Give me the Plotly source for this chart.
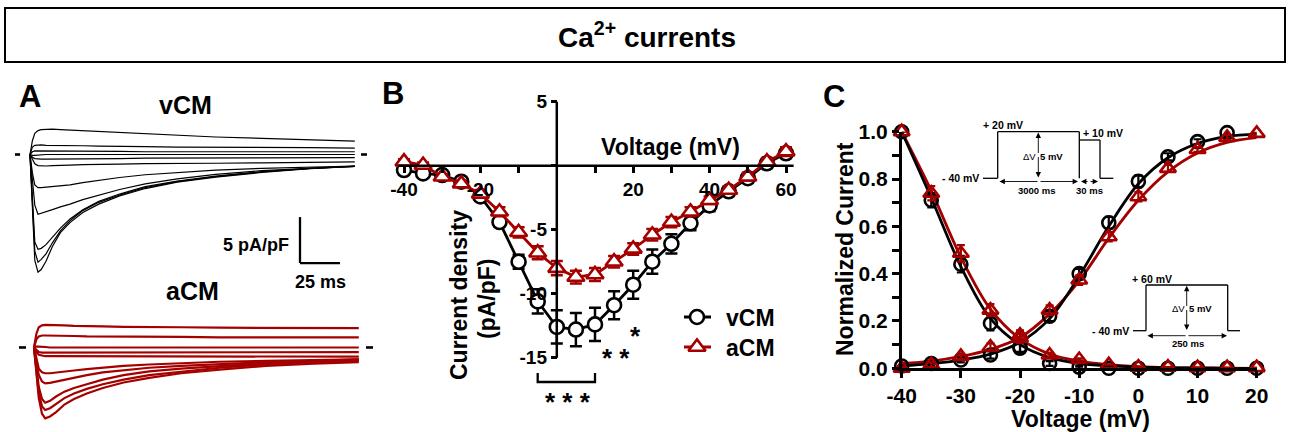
import plotly.graph_objects as go

W, H = 1289, 432
FONT = "Liberation Sans, Arial, Helvetica, sans-serif"
RED = "#A50000"
BLACK = "#000000"

# ---------------- Panel A: example current traces (pA/pF vs ms) ----------------
trace_t_ms = [0, 1.5, 3, 5, 7, 10, 14, 19, 25, 33, 43, 56, 72, 92, 116, 145, 175, 203]

v_out1 = [0, 1.5, 2.3, 2.6, 2.7, 2.75, 2.75, 2.7, 2.65, 2.55, 2.45, 2.35, 2.2, 2.05, 1.9, 1.75, 1.6, 1.45]
v_out2 = [0, 0.8, 1.0, 1.05, 1.05, 1.0, 1.0, 1.0, 0.95, 0.95, 0.9, 0.9, 0.85, 0.8, 0.8, 0.75, 0.75, 0.7]
v_out3 = [0, 0.3, 0.4, 0.4, 0.4, 0.4, 0.4, 0.4, 0.35, 0.35, 0.35, 0.35, 0.3, 0.3, 0.3, 0.3, 0.3, 0.3]
v_flat = [0, -0.1, -0.1, -0.05, 0, 0, 0, 0, 0, 0, 0, 0, 0, 0, 0, 0, 0, 0]
v_in1 = [0, -0.3, -0.45, -0.5, -0.5, -0.5, -0.5, -0.5, -0.5, -0.45, -0.45, -0.45, -0.4, -0.4, -0.4, -0.4, -0.35, -0.35]
v_in2 = [0, -0.6, -1.0, -1.2, -1.25, -1.25, -1.2, -1.2, -1.15, -1.1, -1.1, -1.05, -1.0, -1.0, -0.95, -0.9, -0.85, -0.8]
v_in3 = [0, -2.0, -3.3, -3.6, -3.6, -3.55, -3.5, -3.4, -3.3, -3.05, -2.8, -2.5, -2.2, -1.95, -1.7, -1.5, -1.35, -1.25]
v_in4 = [0, -3.0, -5.5, -6.5, -6.4, -6.2, -6.0, -5.7, -5.4, -4.9, -4.4, -3.8, -3.2, -2.65, -2.15, -1.75, -1.5, -1.3]
v_in5 = [0, -5.0, -9.5, -10.3, -10.2, -9.8, -9.0, -8.0, -7.0, -6.0, -5.1, -4.3, -3.5, -2.9, -2.35, -1.85, -1.5, -1.25]
v_in6 = [0, -5.5, -10.5, -11.7, -11.4, -10.8, -9.6, -8.3, -7.2, -6.1, -5.2, -4.4, -3.6, -2.95, -2.4, -1.9, -1.5, -1.3]
v_in7 = [0, -6.0, -11.5, -12.8, -12.5, -11.6, -10.0, -8.5, -7.4, -6.3, -5.4, -4.5, -3.7, -3.0, -2.45, -1.95, -1.55, -1.3]
vcm_traces = [v_out1, v_out2, v_out3, v_flat, v_in1, v_in2, v_in3, v_in4, v_in5, v_in6, v_in7]

a_out1 = [0, 1.5, 2.2, 2.4, 2.45, 2.45, 2.4, 2.4, 2.35, 2.3, 2.3, 2.25, 2.2, 2.2, 2.15, 2.15, 2.1, 2.1]
a_out2 = [0, 0.9, 1.2, 1.3, 1.3, 1.3, 1.3, 1.25, 1.25, 1.2, 1.2, 1.2, 1.15, 1.15, 1.1, 1.1, 1.1, 1.1]
a_flat = [0, 0.1, 0.1, 0.1, 0.05, 0, 0, 0, 0, 0, 0, 0, 0, 0, 0, 0, 0, 0]
a_in1 = [0, -0.3, -0.5, -0.55, -0.55, -0.55, -0.55, -0.55, -0.55, -0.5, -0.5, -0.5, -0.5, -0.5, -0.5, -0.5, -0.5, -0.5]
a_in2 = [0, -0.5, -0.8, -0.9, -0.95, -0.95, -0.95, -1.0, -1.0, -1.0, -1.0, -1.0, -1.0, -1.0, -1.0, -1.0, -1.0, -1.0]
a_in3 = [0, -1.2, -2.3, -2.7, -2.8, -2.8, -2.7, -2.6, -2.5, -2.35, -2.2, -2.0, -1.85, -1.7, -1.55, -1.45, -1.35, -1.3]
a_in4 = [0, -1.5, -3.0, -3.7, -3.9, -3.85, -3.7, -3.5, -3.3, -3.0, -2.7, -2.45, -2.2, -2.0, -1.8, -1.6, -1.45, -1.35]
a_in5 = [0, -2.0, -4.3, -5.6, -6.0, -5.8, -5.3, -4.8, -4.4, -4.0, -3.5, -3.0, -2.6, -2.3, -2.0, -1.7, -1.45, -1.3]
a_in6 = [0, -2.2, -5.0, -6.4, -6.8, -6.6, -6.1, -5.5, -5.0, -4.5, -4.0, -3.5, -3.0, -2.6, -2.2, -1.85, -1.6, -1.45]
a_in7 = [0, -2.5, -5.5, -7.2, -7.7, -7.5, -7.0, -6.2, -5.6, -5.0, -4.4, -3.8, -3.3, -2.8, -2.4, -2.0, -1.75, -1.6]
acm_traces = [a_out1, a_out2, a_flat, a_in1, a_in2, a_in3, a_in4, a_in5, a_in6, a_in7]

scale_bar_current = 5    # pA/pF
scale_bar_time = 25      # ms

# ---------------- Panel B: I-V relationship ----------------
b_voltage = [-40, -35, -30, -25, -20, -15, -10, -5, 0, 5, 10, 15, 20, 25, 30, 35, 40, 45, 50, 55, 60]
b_vcm = [-0.34, -0.6, -0.73, -1.25, -2.4, -4.4, -7.5, -10.6, -12.6, -12.8, -12.4, -10.9, -9.3, -7.5, -6.1, -4.5, -3.1, -2.0, -0.98, 0.19, 0.97]
b_vcm_err = [0.15, 0.15, 0.15, 0.2, 0.25, 0.35, 0.55, 0.95, 1.3, 1.3, 1.3, 1.1, 1.1, 0.95, 0.75, 0.55, 0.45, 0.35, 0.3, 0.3, 0.35]
b_acm = [0.31, 0.05, -0.86, -1.4, -2.2, -3.6, -5.2, -6.8, -8.0, -8.7, -8.5, -7.5, -6.5, -5.4, -4.4, -3.6, -2.7, -1.9, -0.86, 0.31, 1.1]
b_acm_err = [0.2, 0.2, 0.2, 0.25, 0.3, 0.35, 0.4, 0.5, 0.55, 0.5, 0.5, 0.45, 0.45, 0.45, 0.4, 0.35, 0.3, 0.3, 0.3, 0.3, 0.35]
b_xtick_vals = [-40, -30, -20, -10, 10, 20, 30, 40, 50, 60]
b_xtick_text = ["-40", "", "-20", "", "", "20", "", "40", "", "60"]
b_ytick_vals = [5, 0, -5, -10, -15]
b_ytick_text = ["5", "", "-5", "-10", "-15"]
sig_bracket_mv = [-5, 10]
legend_names = ["vCM", "aCM"]

# ---------------- Panel C: activation / inactivation ----------------
c_voltage = [-40, -35, -30, -25, -20, -15, -10, -5, 0, 5, 10, 15, 20]
act_vcm = [0.01, 0.02, 0.035, 0.056, 0.085, 0.22, 0.40, 0.615, 0.79, 0.894, 0.958, 0.996, None]
act_vcm_err = [0.005, 0.01, 0.01, 0.015, 0.02, 0.02, 0.02, 0.025, 0.025, 0.015, 0.01, 0.01, 0]
act_acm = [0.0, 0.015, 0.05, 0.09, 0.14, 0.246, 0.373, 0.556, 0.725, 0.845, 0.925, 0.976, 0.993]
act_acm_err = [0.005, 0.01, 0.01, 0.015, 0.02, 0.02, 0.02, 0.02, 0.02, 0.015, 0.01, 0.01, 0.005]
inact_vcm = [1.0, 0.71, 0.44, 0.19, 0.09, 0.02, 0.005, 0.0, 0.0, 0.0, 0.0, 0.0, 0.0]
inact_vcm_err = [0, 0.03, 0.035, 0.03, 0.02, 0.01, 0.005, 0, 0, 0, 0, 0, 0]
inact_acm = [1.0, 0.74, 0.486, 0.246, 0.127, 0.056, 0.037, 0.015, 0.005, 0.005, 0.003, 0.003, 0.003]
inact_acm_err = [0, 0.03, 0.035, 0.025, 0.02, 0.01, 0.005, 0, 0, 0, 0, 0, 0]
fit_act_vcm = [0.01, 0.02, 0.035, 0.06, 0.11, 0.21, 0.39, 0.60, 0.78, 0.89, 0.95, 0.98, 0.99]
fit_act_acm = [0.02, 0.03, 0.05, 0.08, 0.13, 0.23, 0.37, 0.55, 0.71, 0.83, 0.91, 0.955, 0.975]
fit_inact_vcm = [1.0, 0.72, 0.43, 0.21, 0.10, 0.045, 0.02, 0.01, 0.005, 0.002, 0.001, 0.0, 0.0]
fit_inact_acm = [1.0, 0.75, 0.47, 0.25, 0.125, 0.06, 0.03, 0.015, 0.007, 0.003, 0.002, 0.001, 0.0]


def fx(x):
    return x / W


def fy(y):
    return 1 - y / H


def bold(s):
    return "<b>" + s + "</b>" if s else ""


fig = go.Figure()

# ---- Panel A traces ----
for tr in vcm_traces:
    fig.add_trace(go.Scatter(x=trace_t_ms, y=tr, mode="lines", xaxis="x", yaxis="y",
                             line=dict(color=BLACK, width=1.2), showlegend=False, hoverinfo="skip"))
for tr in acm_traces:
    fig.add_trace(go.Scatter(x=trace_t_ms, y=tr, mode="lines", xaxis="x2", yaxis="y2",
                             line=dict(color=RED, width=2.2), showlegend=False, hoverinfo="skip"))

# ---- Panel B ----
B_XRANGE = [-43, 63]
B_YRANGE = [-19.5, 5.8]
B_X0PX, B_PX_PER_MV = 556.8, 3.82
B_Y0PX, B_PX_PER_UNIT = 165.7, 12.8


def bx(px_):
    return (px_ - B_X0PX) / B_PX_PER_MV


def by(py_):
    return (B_Y0PX - py_) / B_PX_PER_UNIT


circle_marker = dict(symbol="circle", size=14, color="white", line=dict(color=BLACK, width=2.6))
tri_marker = dict(symbol="triangle-up", size=15, color="white", line=dict(color=RED, width=2.6))

fig.add_trace(go.Scatter(
    x=b_voltage, y=b_vcm, mode="lines+markers", xaxis="x3", yaxis="y3", showlegend=False,
    line=dict(color=BLACK, width=2.8), marker=circle_marker,
    error_y=dict(type="data", array=b_vcm_err, color=BLACK, thickness=2.5, width=6),
    cliponaxis=False))
fig.add_trace(go.Scatter(
    x=b_voltage, y=b_acm, mode="lines+markers", xaxis="x3", yaxis="y3", showlegend=False,
    line=dict(color=RED, width=2.8), marker=tri_marker,
    error_y=dict(type="data", array=b_acm_err, color=RED, thickness=2.5, width=6),
    cliponaxis=False))

# legend keys (drawn inside panel B)
for (ypx, col, mk) in [(317, BLACK, circle_marker), (347, RED, tri_marker)]:
    fig.add_trace(go.Scatter(x=[bx(684), bx(697), bx(711)], y=[by(ypx)] * 3, mode="lines",
                             xaxis="x3", yaxis="y3", line=dict(color=col, width=2.8),
                             showlegend=False, hoverinfo="skip", cliponaxis=False))
    fig.add_trace(go.Scatter(x=[bx(697)], y=[by(ypx)], mode="markers", marker=mk,
                             xaxis="x3", yaxis="y3", showlegend=False, hoverinfo="skip", cliponaxis=False))

# ---- Panel C ----
for fit, col in [(fit_act_acm, RED), (fit_inact_acm, RED), (fit_act_vcm, BLACK), (fit_inact_vcm, BLACK)]:
    fig.add_trace(go.Scatter(x=c_voltage, y=fit, mode="lines", xaxis="x4", yaxis="y4",
                             line=dict(color=col, width=2.8, shape="spline", smoothing=1.0),
                             showlegend=False, hoverinfo="skip", cliponaxis=False))
for vals, err in [(act_vcm, act_vcm_err), (inact_vcm, inact_vcm_err)]:
    fig.add_trace(go.Scatter(x=c_voltage, y=vals, mode="markers", xaxis="x4", yaxis="y4",
                             marker=dict(symbol="circle", size=13, color="rgba(255,255,255,0)",
                                         line=dict(color=BLACK, width=2.6)),
                             error_y=dict(type="data", array=err, color=BLACK, thickness=2.2, width=4),
                             showlegend=False, cliponaxis=False))
for vals, err in [(act_acm, act_acm_err), (inact_acm, inact_acm_err)]:
    fig.add_trace(go.Scatter(x=c_voltage, y=vals, mode="markers", xaxis="x4", yaxis="y4",
                             marker=dict(symbol="triangle-up", size=14, color="rgba(255,255,255,0)",
                                         line=dict(color=RED, width=2.6)),
                             error_y=dict(type="data", array=err, color=RED, thickness=2.2, width=4),
                             showlegend=False, cliponaxis=False))

# ---------------- axes ----------------
A_XRANGE = [-12.5, 213.75]
hidden = dict(visible=False, showgrid=False, zeroline=False, automargin=False)

b_xdom = [fx(B_X0PX + B_XRANGE[0] * B_PX_PER_MV), fx(B_X0PX + B_XRANGE[1] * B_PX_PER_MV)]
b_ydom = [fy(B_Y0PX - B_YRANGE[0] * B_PX_PER_UNIT), fy(B_Y0PX - B_YRANGE[1] * B_PX_PER_UNIT)]
b_xaxis_pos = fy(B_Y0PX)
b_yaxis_pos = fx(B_X0PX)

tickfont_b = dict(family=FONT, size=19, color=BLACK)
tickfont_c = dict(family=FONT, size=21, color=BLACK)

fig.update_layout(
    template="none",
    autosize=False,
    width=W, height=H,
    margin=dict(l=0, r=0, t=0, b=0, pad=0, autoexpand=False),
    paper_bgcolor="white", plot_bgcolor="rgba(0,0,0,0)",
    font=dict(family=FONT, color=BLACK),
    showlegend=False,
    xaxis=dict(domain=[fx(10), fx(372)], range=A_XRANGE, anchor="y", **hidden),
    yaxis=dict(domain=[fy(290), fy(112)], range=[-14.73, 4.62], anchor="x", **hidden),
    xaxis2=dict(domain=[fx(14), fx(376)], range=A_XRANGE, anchor="y2", **hidden),
    yaxis2=dict(domain=[fy(428), fy(300)], range=[-8.75, 5.16], anchor="x2", **hidden),
    xaxis3=dict(domain=b_xdom, range=B_XRANGE, anchor="free", position=b_xaxis_pos, automargin=False,
                showline=False, showgrid=False, zeroline=False,
                tickmode="array", tickvals=b_xtick_vals, ticktext=[bold(t) for t in b_xtick_text],
                ticks="outside", ticklen=6, tickwidth=2.5, tickcolor=BLACK, tickfont=tickfont_b),
    yaxis3=dict(domain=b_ydom, range=B_YRANGE, anchor="free", position=b_yaxis_pos, automargin=False,
                showline=False, showgrid=False, zeroline=False,
                tickmode="array", tickvals=b_ytick_vals, ticktext=[bold(t) for t in b_ytick_text],
                ticks="outside", ticklen=6, tickwidth=2.5, tickcolor=BLACK, tickfont=tickfont_b),
    xaxis4=dict(domain=[fx(901.7), fx(1256.7)], range=[-40, 20], anchor="y4", automargin=False,
                showline=True, linewidth=2.5, linecolor=BLACK, showgrid=False, zeroline=False,
                tickmode="array", tickvals=[-40, -30, -20, -10, 0, 10, 20],
                ticktext=[bold(t) for t in ["-40", "-30", "-20", "-10", "0", "10", "20"]],
                ticks="outside", ticklen=7, tickwidth=2.5, tickcolor=BLACK, tickfont=tickfont_c),
    yaxis4=dict(domain=[fy(368.3), fy(131.7)], range=[0, 1.0], anchor="x4", automargin=False,
                showline=True, linewidth=2.5, linecolor=BLACK, showgrid=False, zeroline=False,
                tickmode="array", tickvals=[0, 0.2, 0.4, 0.6, 0.8, 1.0],
                ticktext=[bold(t) for t in ["0.0", "0.2", "0.4", "0.6", "0.8", "1.0"]],
                ticks="outside", ticklen=7, tickwidth=2.5, tickcolor=BLACK, tickfont=tickfont_c,
                minor=dict(dtick=0.1, ticks="outside", ticklen=7, tickwidth=2.5, tickcolor=BLACK, showgrid=False)),
)

shapes = []
annots = []


def line_px(x0, y0, x1, y1, w=1.3):
    shapes.append(dict(type="line", xref="paper", yref="paper", x0=fx(x0), y0=fy(y0), x1=fx(x1), y1=fy(y1),
                       line=dict(color=BLACK, width=w)))


def text_px(x, y, s, size, xanchor="center", angle=0, b=True):
    annots.append(dict(x=fx(x), y=fy(y), xref="paper", yref="paper", text=bold(s) if b else s,
                       showarrow=False, xanchor=xanchor, yanchor="middle", textangle=angle,
                       font=dict(family=FONT, size=size, color=BLACK)))


def arrow_px(x0, y0, x1, y1):
    # arrow from tail (x0,y0) to head (x1,y1), pixel coordinates
    annots.append(dict(x=fx(x1), y=fy(y1), xref="paper", yref="paper", ax=x0 - x1, ay=y0 - y1,
                       axref="pixel", ayref="pixel", text=" ", showarrow=True, arrowhead=2,
                       arrowsize=1.2, arrowwidth=0.9, arrowcolor=BLACK, standoff=0, startstandoff=0,
                       font=dict(size=1)))


# Title box
shapes.append(dict(type="rect", xref="paper", yref="paper", x0=fx(5), y0=fy(62), x1=fx(1285), y1=fy(8),
                   line=dict(color=BLACK, width=2)))
annots.append(dict(x=fx(647), y=fy(35), xref="paper", yref="paper", showarrow=False,
                   xanchor="center", yanchor="middle",
                   text="<b>Ca<sup>2+</sup> currents</b>", font=dict(family=FONT, size=28, color=BLACK)))

# Panel letters
text_px(30, 97, "A", 31)
text_px(393, 94, "B", 31)
text_px(834, 97, "C", 31)

# Panel A labels, baseline dashes and scale bar
text_px(185, 105, "vCM", 25)
text_px(192, 291, "aCM", 25)
for (xr, yr, t0, t1) in [("x", "y", -9.4, -6.2), ("x", "y", 206.9, 210.6), ("x2", "y2", -9.4, -5.0), ("x2", "y2", 207.5, 211.9)]:
    shapes.append(dict(type="line", xref=xr, yref=yr, x0=t0, x1=t1, y0=0, y1=0, line=dict(color=BLACK, width=2.6)))
sb_t0, sb_i0 = 168.75, -11.8
shapes.append(dict(type="line", xref="x", yref="y", x0=sb_t0, x1=sb_t0, y0=sb_i0, y1=sb_i0 + scale_bar_current,
                   line=dict(color=BLACK, width=2.3)))
shapes.append(dict(type="line", xref="x", yref="y", x0=sb_t0, x1=sb_t0 + scale_bar_time, y0=sb_i0, y1=sb_i0,
                   line=dict(color=BLACK, width=2.3)))
text_px(256, 245, "5 pA/pF", 18)
text_px(320, 282, "25 ms", 18)

# Panel B axis lines, titles, legend text, significance
shapes.append(dict(type="line", xref="x3", yref="y3", x0=-41.5, x1=62, y0=0, y1=0, line=dict(color=BLACK, width=2.5)))
shapes.append(dict(type="line", xref="x3", yref="y3", x0=0, x1=0, y0=-15, y1=5, line=dict(color=BLACK, width=2.5)))
text_px(670, 147, "Voltage (mV)", 23)
text_px(459, 295, "Current density", 23, angle=-90)
text_px(487, 299, "(pA/pF)", 23, angle=-90)
text_px(724, 318, legend_names[0], 23, xanchor="left")
text_px(724, 348, legend_names[1], 23, xanchor="left")
bx0, bx1 = sig_bracket_mv
shapes.append(dict(type="path", xref="x3", yref="y3",
                   path=f"M {bx0},{by(373)} L {bx0},{by(382)} L {bx1},{by(382)} L {bx1},{by(373)}",
                   line=dict(color=BLACK, width=2.3)))
for (xpx, ypx, s) in [(635, 329, "*"), (615.5, 351, "* *"), (568, 395, "* * *")]:
    annots.append(dict(x=bx(xpx), y=by(ypx), xref="x3", yref="y3", text=bold(s), showarrow=False, yshift=-7,
                       font=dict(family=FONT, size=26, color=BLACK)))

# Panel C titles
text_px(845, 249, "Normalized Current", 23, angle=-90)
text_px(1080, 419, "Voltage (mV)", 23)

# Inset 1 (inactivation protocol)
line_px(983, 178.3, 997.7, 178.3)
line_px(997.7, 178.3, 997.7, 131.7)
line_px(997.7, 131.7, 1079.3, 131.7)
line_px(1079.3, 131.7, 1079.3, 178.3)
line_px(1079.3, 140, 1100, 140)
line_px(1100, 140, 1100, 178.3)
line_px(1100, 178.3, 1113.3, 178.3)
text_px(1003, 125, "+ 20 mV", 10.5)
text_px(1103, 133, "+ 10 mV", 10.5)
text_px(981, 178, "- 40 mV", 10.5, xanchor="right")
arrow_px(1038.3, 155, 1038.3, 132.5)
arrow_px(1038.3, 155, 1038.3, 177.5)
text_px(1029, 156, "ΔV", 9.5, b=False)
text_px(1051, 156, "5 mV", 9.5)
arrow_px(1039, 181.5, 999.5, 181.5)
arrow_px(1039, 181.5, 1078, 181.5)
arrow_px(1089, 181.5, 1081, 181.5)
arrow_px(1089, 181.5, 1098, 181.5)
text_px(1037, 190, "3000 ms", 9.5)
text_px(1089, 190, "30 ms", 9.5)

# Inset 2 (activation protocol)
line_px(1133, 330.7, 1146, 330.7)
line_px(1146, 330.7, 1146, 285)
line_px(1146, 285, 1227.7, 285)
line_px(1227.7, 285, 1227.7, 330.7)
line_px(1227.7, 330.7, 1240, 330.7)
text_px(1152, 278.5, "+ 60 mV", 10.5)
text_px(1131, 331, "- 40 mV", 10.5, xanchor="right")
arrow_px(1186.7, 308, 1186.7, 285.8)
arrow_px(1186.7, 308, 1186.7, 330)
text_px(1178, 308.5, "ΔV", 9.5, b=False)
text_px(1200, 308.5, "5 mV", 9.5)
arrow_px(1187, 335.7, 1147.5, 335.7)
arrow_px(1187, 335.7, 1227, 335.7)
text_px(1188, 343.5, "250 ms", 9.5)

fig.update_layout(shapes=shapes, annotations=annots)

fig.write_html("out.html", config={"displayModeBar": False},
               post_script="document.body.style.margin='0';document.body.style.overflow='hidden';")
